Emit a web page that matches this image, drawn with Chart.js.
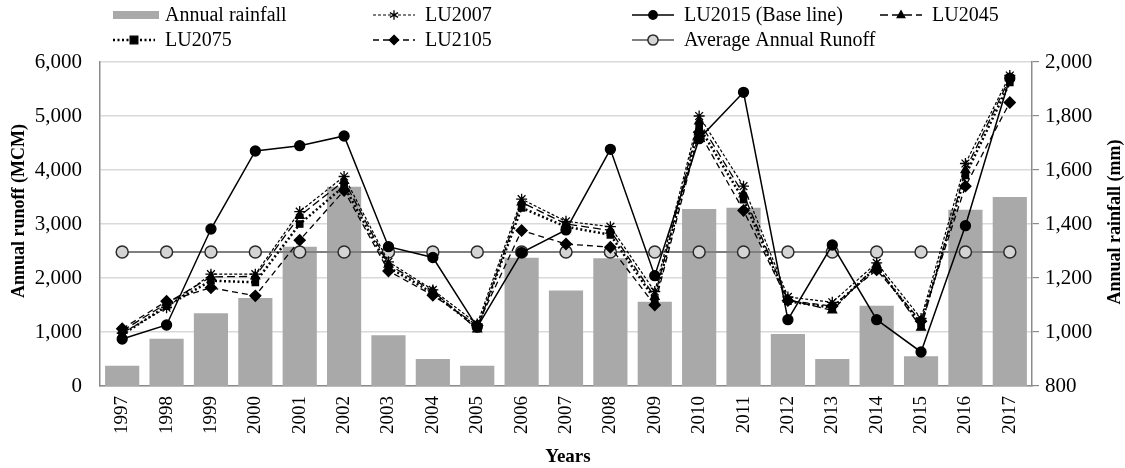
<!DOCTYPE html>
<html>
<head>
<meta charset="utf-8">
<title>Annual runoff and rainfall</title>
<script src="https://cdn.jsdelivr.net/npm/chart.js@4.4.1/dist/chart.umd.min.js"></script>
<style>
  html, body { margin: 0; padding: 0; background: #ffffff; }
  #wrap { width: 1125px; height: 468px; position: relative; }
</style>
</head>
<body>
<div id="wrap"><canvas id="chart" width="1125" height="468"></canvas></div>
<script>
// Years on the category axis
const years = ['1997','1998','1999','2000','2001','2002','2003','2004','2005','2006','2007',
               '2008','2009','2010','2011','2012','2013','2014','2015','2016','2017'];

// Annual rainfall (mm), right axis
const annualRainfall = [875, 975, 1069, 1126, 1316, 1538, 988, 900, 875, 1275, 1154,
                        1273, 1112, 1456, 1460, 993, 900, 1097, 910, 1453, 1500];

// Annual runoff (MCM) under each land-use scenario, left axis
const lu2007 = [980, 1450, 2070, 2070, 3230, 3880, 2300, 1780, 1150, 3460, 3050,
                2950, 1750, 5000, 3700, 1650, 1550, 2280, 1250, 4120, 5750];
const lu2015 = [870, 1130, 2907, 4352, 4451, 4630, 2580, 2380, 1090, 2470, 2890,
                4383, 2043, 4580, 5439, 1228, 2611, 1228, 630, 2969, 5700];
const lu2045 = [1020, 1530, 2020, 2030, 3150, 3800, 2250, 1760, 1050, 3400, 3000,
                2880, 1650, 4900, 3550, 1600, 1400, 2240, 1080, 4000, 5700];
const lu2075 = [950, 1480, 1950, 1920, 3000, 3700, 2200, 1720, 1080, 3300, 2950,
                2800, 1600, 4800, 3450, 1570, 1450, 2200, 1150, 3900, 5620];
const lu2105 = [1060, 1570, 1820, 1670, 2700, 3620, 2130, 1680, 1120, 2880, 2630,
                2570, 1500, 4700, 3250, 1580, 1480, 2150, 1200, 3700, 5250];
const averageAnnualRunoff = [2480, 2480, 2480, 2480, 2480, 2480, 2480, 2480, 2480, 2480, 2480,
                             2480, 2480, 2480, 2480, 2480, 2480, 2480, 2480, 2480, 2480];

// Axis tick ranges
const runoffTicks = { min: 0, max: 6000, step: 1000 };
const rainfallTicks = { min: 800, max: 2000, step: 200 };

const FONT = '"Liberation Serif", "Times New Roman", serif';

function lineSeries(label, data, dash, style, radius, width, order) {
  return {
    type: 'line', label, data, yAxisID: 'y', order,
    borderColor: '#000', backgroundColor: '#000', borderWidth: width,
    borderDash: dash, pointStyle: style, pointRadius: radius,
    pointBackgroundColor: '#000', pointBorderColor: '#000', pointBorderWidth: 1.3,
    tension: 0, fill: false
  };
}

const datasets = [
  { type: 'bar', label: 'Annual rainfall', data: annualRainfall, yAxisID: 'y1', order: 20,
    backgroundColor: '#a9a9a9', borderWidth: 0, barPercentage: 0.77, categoryPercentage: 1.0 },
  lineSeries('LU2007', lu2007, [3, 2], 'star', 5.5, 1.2, 5),
  lineSeries('LU2015 (Base line)', lu2015, [], 'circle', 5, 1.5, 1),
  lineSeries('LU2045', lu2045, [8, 4], 'triangle', 5, 1.3, 4),
  lineSeries('LU2075', lu2075, [2, 2.5], 'rect', 4.5, 2.5, 3),
  lineSeries('LU2105', lu2105, [6, 4], 'rectRot', 5.5, 1.3, 2),
  { type: 'line', label: 'Average Annual Runoff', data: averageAnnualRunoff, yAxisID: 'y', order: 10,
    borderColor: '#7f7f7f', borderWidth: 2, pointStyle: 'circle', pointRadius: 6,
    pointBackgroundColor: '#d4d4d4', pointBorderColor: '#2b2b2b', pointBorderWidth: 1.5,
    tension: 0, fill: false }
];

// Legend laid out in two rows of fixed columns
const legendRows = [
  [0, 1, 2, 3],
  [4, 5, 6]
];
const legendColumns = [113, 373, 632, 880];
const legendRowY = [15, 40];

function drawMarker(ctx, style, x, y, r, fill, stroke, lw) {
  ctx.save();
  ctx.setLineDash([]);
  ctx.fillStyle = fill; ctx.strokeStyle = stroke; ctx.lineWidth = lw;
  ctx.beginPath();
  if (style === 'circle') {
    ctx.arc(x, y, r, 0, Math.PI * 2);
    ctx.fill(); ctx.stroke();
  } else if (style === 'rect') {
    ctx.rect(x - r, y - r, 2 * r, 2 * r);
    ctx.fill(); ctx.stroke();
  } else if (style === 'rectRot') {
    ctx.moveTo(x, y - r); ctx.lineTo(x + r, y); ctx.lineTo(x, y + r); ctx.lineTo(x - r, y);
    ctx.closePath(); ctx.fill(); ctx.stroke();
  } else if (style === 'triangle') {
    ctx.moveTo(x, y - r); ctx.lineTo(x + r * 0.9, y + r * 0.6); ctx.lineTo(x - r * 0.9, y + r * 0.6);
    ctx.closePath(); ctx.fill(); ctx.stroke();
  } else if (style === 'star') {
    for (let i = 0; i < 3; i++) {
      const a = Math.PI / 2 + i * Math.PI / 3;
      ctx.moveTo(x + Math.cos(a) * r, y + Math.sin(a) * r);
      ctx.lineTo(x - Math.cos(a) * r, y - Math.sin(a) * r);
    }
    ctx.stroke();
  }
  ctx.restore();
}

const twoRowLegend = {
  id: 'twoRowLegend',
  afterDraw(chart) {
    const ctx = chart.ctx;
    const ds = chart.data.datasets;
    ctx.save();
    ctx.font = '20px ' + FONT;
    ctx.textBaseline = 'middle';
    ctx.textAlign = 'left';
    legendRows.forEach((row, ri) => {
      row.forEach((di, ci) => {
        const d = ds[di];
        const x0 = legendColumns[ci];
        const y = legendRowY[ri];
        const len = 42;
        if (d.type === 'bar') {
          ctx.fillStyle = d.backgroundColor;
          ctx.fillRect(x0, y - 4, len + 4, 8);
        } else {
          ctx.strokeStyle = d.borderColor;
          ctx.lineWidth = d.borderWidth;
          ctx.setLineDash(d.borderDash || []);
          ctx.beginPath();
          ctx.moveTo(x0, y); ctx.lineTo(x0 + len, y);
          ctx.stroke();
          ctx.setLineDash([]);
          drawMarker(ctx, d.pointStyle, x0 + len / 2, y, d.pointRadius * 0.85,
                     d.pointBackgroundColor, d.pointBorderColor, d.pointBorderWidth);
        }
        ctx.fillStyle = '#000';
        ctx.fillText(d.label, x0 + len + 10, y + 1);
      });
    });
    ctx.restore();
  }
};

// Axis titles, both vertical ones reading bottom to top
const axisTitles = {
  id: 'axisTitles',
  afterDraw(chart) {
    const ctx = chart.ctx;
    const a = chart.chartArea;
    ctx.save();
    ctx.fillStyle = '#000';
    ctx.font = 'bold 19px ' + FONT;
    ctx.textAlign = 'center';
    ctx.textBaseline = 'middle';
    ctx.fillText('Years', (a.left + a.right) / 2 + 2, 457);
    ctx.font = 'bold 18px ' + FONT;
    ctx.save();
    ctx.translate(19, 211);
    ctx.rotate(-Math.PI / 2);
    ctx.fillText('Annual runoff (MCM)', 0, 0);
    ctx.restore();
    ctx.save();
    ctx.translate(1115, 222);
    ctx.rotate(-Math.PI / 2);
    ctx.fillText('Annual rainfall (mm)', 0, 0);
    ctx.restore();
    ctx.restore();
  }
};

new Chart(document.getElementById('chart'), {
  type: 'bar',
  data: { labels: years, datasets },
  plugins: [twoRowLegend, axisTitles],
  options: {
    responsive: false,
    animation: false,
    devicePixelRatio: 1,
    layout: { padding: { top: 62, left: 0, right: 0, bottom: 0 } },
    plugins: { legend: { display: false }, tooltip: { enabled: false } },
    scales: {
      x: {
        grid: { display: false, drawTicks: false },
        border: { color: '#8c8c8c', width: 1.5 },
        ticks: { minRotation: 90, maxRotation: 90, padding: 10, color: '#000',
                 font: { family: FONT, size: 19 } },
        afterFit(scale) { scale.height = 82; }
      },
      y: {
        position: 'left',
        min: runoffTicks.min, max: runoffTicks.max,
        grid: { color: '#d9d9d9', lineWidth: 1.5, drawTicks: false },
        border: { color: '#8c8c8c', width: 1.5 },
        ticks: { stepSize: runoffTicks.step, padding: 18, color: '#000',
                 font: { family: FONT, size: 21 },
                 callback: v => v.toLocaleString('en-US') },
        afterFit(scale) { scale.width = 100; }
      },
      y1: {
        position: 'right',
        min: rainfallTicks.min, max: rainfallTicks.max,
        grid: { drawOnChartArea: false, color: '#8c8c8c', tickLength: 7, lineWidth: 1.2 },
        border: { color: '#8c8c8c', width: 1.5 },
        ticks: { stepSize: rainfallTicks.step, padding: 6, color: '#000',
                 font: { family: FONT, size: 21 },
                 callback: v => v.toLocaleString('en-US') },
        afterFit(scale) { scale.width = 93; }
      }
    }
  }
});
</script>
</body>
</html>
